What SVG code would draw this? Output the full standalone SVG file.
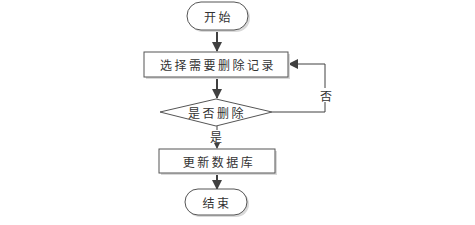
<svg xmlns="http://www.w3.org/2000/svg" width="475" height="225" viewBox="0 0 475 225">
<style>
.shape{fill:#fff;stroke:#555;stroke-width:1}
.shadow{fill:#d9d9d9;stroke:none}
.line{fill:none;stroke:#404040;stroke-width:2}
.thin{fill:none;stroke:#404040;stroke-width:1}
text{font-family:"Noto Sans CJK SC","Liberation Serif",serif;font-size:12px;fill:#333;text-anchor:middle;dominant-baseline:central;letter-spacing:2.5px}
.lbl{letter-spacing:0}
</style>
<defs>
<marker id="ah" markerWidth="6" markerHeight="6" refX="5" refY="3" orient="auto" markerUnits="userSpaceOnUse" viewBox="0 0 6 6">
<path d="M0,0 L6,3 L0,6 Z" fill="#404040"/>
</marker>
<marker id="ahl" markerWidth="10" markerHeight="10" refX="9" refY="5" orient="auto" markerUnits="userSpaceOnUse" viewBox="0 0 10 10">
<path d="M0,0 L10,5 L0,10 Z" fill="#404040"/>
</marker>
</defs>
<rect width="475" height="225" fill="#fff"/>
<g id="connectors">
<line class="line" x1="217" y1="30" x2="217" y2="51" marker-end="url(#ahl)"/>
<line class="line" x1="217" y1="77" x2="217" y2="98" marker-end="url(#ahl)"/>
<polyline class="thin" points="272,112 325,112 325,64 289,64" marker-end="url(#ahl)"/>
<line class="thin" x1="217" y1="126" x2="217" y2="148" marker-end="url(#ah)"/>
<line class="line" x1="217" y1="173" x2="217" y2="189" marker-end="url(#ahl)"/>
<rect x="318" y="88" width="15" height="14" fill="#fff"/>
<text class="lbl" x="326" y="95">否</text>
<rect x="209" y="130" width="14" height="13" fill="#fff"/>
<text class="lbl" x="216" y="136.5">是</text>
</g>
<g id="start">
<rect class="shadow" x="189" y="4" width="61" height="28" rx="14"/>
<rect class="shape" x="187" y="2" width="61" height="28" rx="14"/>
<text x="218.5" y="16">开始</text>
</g>
<g id="select">
<rect class="shadow" x="146" y="54" width="144" height="25"/>
<rect class="shape" x="144" y="52" width="144" height="25"/>
<text x="218" y="64.5">选择需要删除记录</text>
</g>
<g id="decide">
<polygon class="shape" points="160,112 216,99 272,112 216,126"/>
<text x="217" y="112.5">是否删除</text>
</g>
<g id="update">
<rect class="shadow" x="161" y="151" width="116" height="24"/>
<rect class="shape" x="159" y="149" width="116" height="24"/>
<text x="219" y="161">更新数据库</text>
</g>
<g id="end">
<rect class="shadow" x="187" y="191" width="62" height="26" rx="13"/>
<rect class="shape" x="185" y="189" width="62" height="26" rx="13"/>
<text x="217" y="202">结束</text>
</g>
</svg>
